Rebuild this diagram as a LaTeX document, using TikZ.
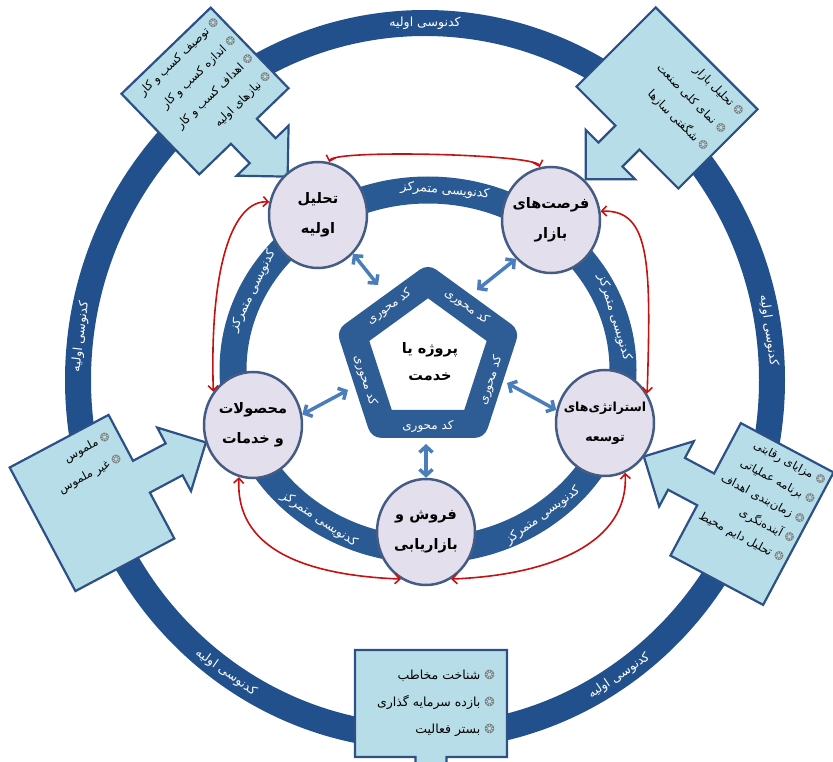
\documentclass[tikz,border=0pt]{standalone}
\usepackage{fontspec}
\usetikzlibrary{arrows.meta,shapes.geometric}
\TeXXeTstate=1
\newfontfamily\fa[Script=Arabic]{DejaVu Sans}
\newcommand\rl[1]{\beginR#1\endR}
\definecolor{ringblue}{RGB}{33,80,140}
\definecolor{innerblue}{RGB}{42,90,148}
\definecolor{pentblue}{RGB}{46,92,148}
\definecolor{callfill}{RGB}{183,222,232}
\definecolor{callborder}{RGB}{45,80,135}
\definecolor{circfill}{RGB}{228,223,236}
\definecolor{circborder}{RGB}{68,92,132}
\definecolor{arrred}{RGB}{200,16,16}
\definecolor{arrblue}{RGB}{74,126,187}
\definecolor{bulgray}{RGB}{120,120,120}
\newcommand\bl[1]{\rl{#1}\ {\color{bulgray}❂}}
\newcommand\callshape[6]{%
 \draw[callout] (-#1,#2) -- (#1,#2) -- (#1,-#2) -- (#6,-#2) -- (#6,{-#2-#3+#5}) -- (#4,{-#2-#3+#5}) -- (0,{-#2-#3}) -- (-#4,{-#2-#3+#5}) -- (-#6,{-#2-#3+#5}) -- (-#6,-#2) -- (-#1,-#2) -- cycle;}
\begin{document}
\begin{tikzpicture}[x=1pt,y=1pt,
  circ/.style={ellipse, minimum width=98pt, minimum height=106pt, inner xsep=-14pt, inner ysep=0pt, fill=circfill, draw=circborder, line width=2.5pt, align=center, font=\fa\bfseries\fontsize{14.5}{30}\selectfont},
  ringtxt/.style={text=white, font=\fa\fontsize{12.5}{14}\selectfont, inner sep=0pt},
  pentxt/.style={text=white, font=\fa\fontsize{12}{13}\selectfont, inner sep=0pt},
  calltxt/.style={align=right, font=\fa\fontsize{11.5}{25}\selectfont, inner sep=0pt, transform shape},
  callout/.style={fill=callfill, draw=callborder, line width=2.2pt},
  redarr/.style={draw=arrred, line width=1.6pt, arrows={Straight Barb[length=5pt,width=10pt]-Straight Barb[length=5pt,width=10pt]}},
  bluearr/.style={draw=arrblue, line width=3.5pt, arrows={Straight Barb[length=6pt,width=13pt]-Straight Barb[length=6pt,width=13pt]}}
]
\useasboundingbox (0,0) rectangle (833,-762);
% rings
\draw[ringblue, line width=26pt] (425,-380) ellipse [x radius=347, y radius=357];
\draw[innerblue, line width=27pt] (428,-370) ellipse [x radius=195, y radius=180];
% callouts
\begin{scope}[shift={(205,-91)}, rotate=44]
 \callshape{62}{56}{63}{36}{36}{18}
 \node[calltxt, anchor=north east] (tA) at (58,48) {\bl{توصیف کسب و کار}\\\bl{اندازه کسب و کار}\\\bl{اهداف کسب و کار}\\\bl{نیازهای اولیه}};
\end{scope}
\begin{scope}[shift={(667,-98)}, rotate=-45]
 \callshape{72}{56}{59}{35}{35}{17}
 \node[calltxt, anchor=north east] (tB) at (64,47) {\bl{تحلیل بازار}\\\bl{نمای کلی صنعت}\\\bl{شگفتی سازها}};
\end{scope}
\begin{scope}[shift={(92,-503)}, rotate=118]
 \callshape{70}{56}{73}{36}{36}{18}
 \node[calltxt, anchor=north east, rotate=-90] (tC) at (57,-47) {\bl{ملموس}\\\bl{غیر ملموس}};
\end{scope}
\begin{scope}[shift={(752,-514)}, rotate=-118]
 \callshape{75}{52.5}{70}{37}{37}{18}
 \node[calltxt, anchor=east, rotate=90, font=\fa\fontsize{11.5}{22}\selectfont] (tD) at (-18,49) {\bl{مزایای رقابتی}\\\bl{برنامه عملیاتی}\\\bl{زمان‌بندی اهداف}\\\bl{آینده‌نگری}\\\bl{تحلیل دایم محیط}};
\end{scope}
\begin{scope}[shift={(431,-703.5)}]
 \callshape{76}{53.5}{73}{38.5}{40}{15.5}
 \node[calltxt, anchor=east, font=\fa\fontsize{12.5}{27}\selectfont] (tE) at (64,0) {\bl{شناخت مخاطب}\\\bl{بازده سرمایه گذاری}\\\bl{بستر فعالیت}};
\end{scope}
% ring texts
\foreach \ang/\rot/\nm in {90/0/o1,173/83/o2,8/-82/o3,-125/-35/o4,-56/34/o5}
  \node[ringtxt, rotate=\rot] (\nm) at ({425+347*cos(\ang)},{-380+357*sin(\ang)}) {\rl{کدنوسی اولیه}};
\foreach \ang/\rot/\nm in {85/-5/i1,17/-73/i2,154/64/i3,-124/-34/i4,-54/36/i5}
  \node[ringtxt, rotate=\rot] (\nm) at ({428+195*cos(\ang)},{-370+180*sin(\ang)}) {\rl{کدنویسی متمرکز}};
% pentagon
\begin{scope}[shift={(428,-360)}]
 \draw[pentblue, line width=28pt, line join=round, fill=white] (90:79) -- (162:79) -- (234:79) -- (306:79) -- (18:79) -- cycle;
 \foreach \ang/\rot/\nm in {54/-36/k1,126/36/k2,198/-72/k3,270/0/k4,342/72/k5}
   \node[pentxt, rotate=\rot] (\nm) at (\ang:66) {\rl{کد محوری}};
 \node[align=center, font=\fa\bfseries\fontsize{14.5}{27}\selectfont] (ctr) at (2,-2) {\rl{پروژه یا}\\\rl{خدمت}};
\end{scope}
\coordinate (pTL) at (378,-285);
\coordinate (pTR) at (477,-290);
\coordinate (pR) at (507,-383);
\coordinate (pL) at (348,-390);
\coordinate (pB) at (426,-444);
% circles
\node[circ] (TL) at (318,-215) {\rl{تحلیل}\\\rl{اولیه}};
\node[circ] (TR) at (551,-220) {\rl{فرصت‌های}\\\rl{بازار}};
\node[circ, font=\fa\bfseries\fontsize{12.5}{30}\selectfont] (R) at (605,-423) {\rl{استراتژی‌های}\\\rl{توسعه}};
\node[circ] (B) at (426,-532) {\rl{فروش و}\\\rl{بازاریابی}};
\node[circ] (L) at (253,-425) {\rl{محصولات}\\\rl{و خدمات}};
% blue arrows
\draw[bluearr] (TL.-48) -- (pTL);
\draw[bluearr] (TR.-132) -- (pTR);
\draw[bluearr] (R.165) -- (pR);
\draw[bluearr] (L.12) -- (pL);
\draw[bluearr] (B.north) -- (pB);
% red arrows
\draw[redarr] (TL.78) .. controls +(4,13) and +(-4,13) .. (TR.102);
\draw[redarr] (TR.10) .. controls +(50,2) and +(4,130) .. (R.35);
\draw[redarr] (TL.165) .. controls +(-35,2) and +(-4,130) .. (L.140);
\draw[redarr] (L.255) .. controls +(-4,-70) and +(-100,4) .. (B.242);
\draw[redarr] (B.298) .. controls +(100,4) and +(4,-70) .. (R.292);
\end{tikzpicture}
\end{document}
